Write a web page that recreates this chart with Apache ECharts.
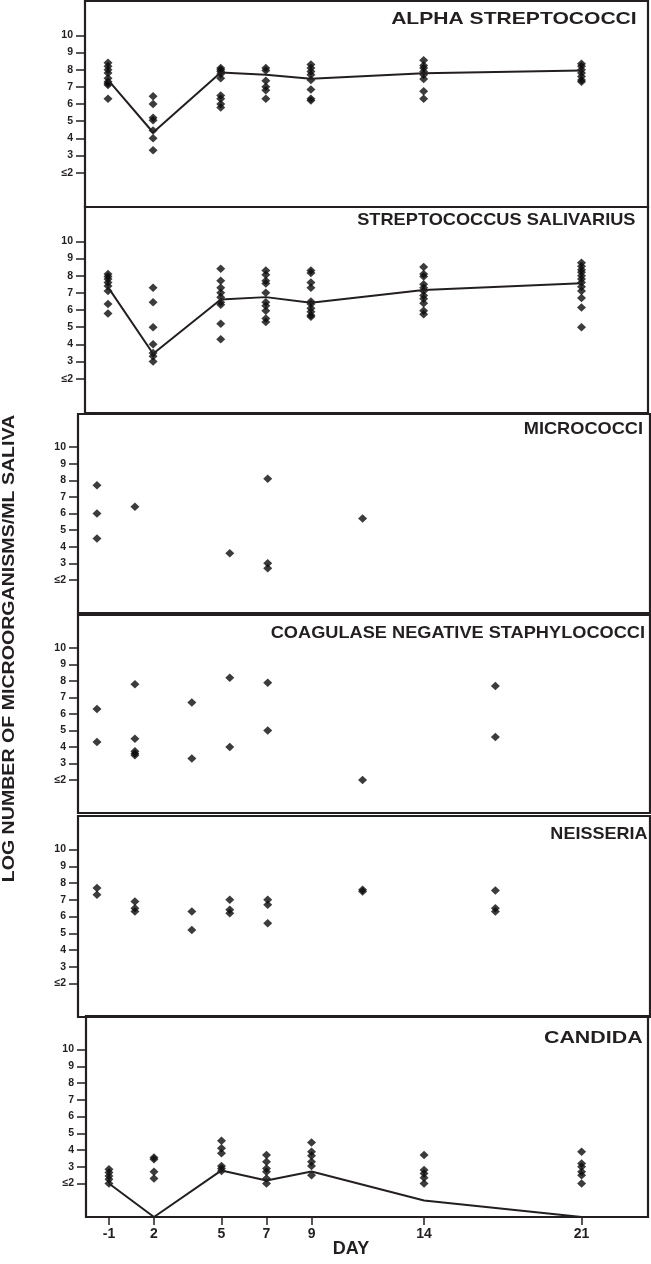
<!DOCTYPE html>
<html><head><meta charset="utf-8">
<script src="https://cdn.jsdelivr.net/npm/echarts@6/dist/echarts.min.js"></script>
<style>html,body{margin:0;padding:0;background:#fff}#c{width:651px;height:1264px}</style>
</head><body><div id="c"></div>
<script>
// ---------- DATA ----------
const days = [-1, 2, 5, 7, 9, 14, 21];
const yTicks = [2, 3, 4, 5, 6, 7, 8, 9, 10];
const yTickLabels = ['≤2', '3', '4', '5', '6', '7', '8', '9', '10'];
const panelTitles = ['ALPHA STREPTOCOCCI', 'STREPTOCOCCUS SALIVARIUS', 'MICROCOCCI',
  'COAGULASE NEGATIVE STAPHYLOCOCCI', 'NEISSERIA', 'CANDIDA'];
const yAxisTitle = 'LOG NUMBER OF MICROORGANISMS/ML SALIVA';
const xAxisTitle = 'DAY';

const alphaStrep = [
  [8.4, 8.2, 8.0, 7.8, 7.5, 7.3, 7.2, 7.1, 6.3],
  [6.45, 6.0, 5.2, 5.05, 4.45, 4.0, 3.3],
  [8.1, 8.0, 7.9, 7.75, 7.5, 6.5, 6.3, 6.0, 5.8],
  [8.1, 7.95, 7.35, 7.0, 6.8, 6.3],
  [8.3, 8.1, 7.9, 7.7, 7.4, 6.85, 6.3, 6.2],
  [8.55, 8.25, 8.1, 7.9, 7.7, 7.45, 6.75, 6.3],
  [8.35, 8.2, 8.0, 7.8, 7.6, 7.4, 7.3]
];
const alphaStrepMean = [7.41, 4.34, 7.83, 7.70, 7.47, 7.79, 7.95];

const salivarius = [
  [8.1, 7.95, 7.8, 7.6, 7.4, 7.1, 6.35, 5.8],
  [7.3, 6.45, 5.0, 4.0, 3.5, 3.3, 3.0],
  [8.4, 7.7, 7.3, 7.0, 6.75, 6.45, 6.3, 5.2, 4.3],
  [8.3, 8.05, 7.7, 7.55, 7.0, 6.45, 6.25, 5.95, 5.5, 5.3],
  [8.3, 8.15, 7.6, 7.3, 6.5, 6.35, 6.1, 5.9, 5.7, 5.6],
  [8.5, 8.1, 7.95, 7.5, 7.3, 7.1, 6.85, 6.65, 6.4, 5.95, 5.75],
  [8.75, 8.55, 8.35, 8.2, 8.0, 7.8, 7.6, 7.35, 7.1, 6.7, 6.15, 5.0]
];
const salivariusMean = [7.33, 3.45, 6.61, 6.75, 6.42, 7.17, 7.56];

const micrococci = [[7.7, 6.0, 4.5], [6.4], [], [3.6], [8.1, 3.0, 2.7], [5.7], []];
const coagNegStaph = [[6.3, 4.3], [7.8, 4.5, 3.75, 3.6, 3.5], [6.7, 3.3], [8.2, 4.0], [7.9, 5.0], [2.0], [7.7, 4.6]];
const neisseria = [[7.7, 7.3], [6.9, 6.5, 6.3], [6.3, 5.2], [7.0, 6.4, 6.2], [7.0, 6.7, 5.6], [7.6, 7.5], [7.55, 6.5, 6.3]];

const candida = [
  [2.85, 2.65, 2.45, 2.25, 2.0],
  [3.55, 3.45, 2.7, 2.3],
  [4.55, 4.1, 3.8, 3.05, 2.9, 2.75],
  [3.7, 3.3, 2.9, 2.7, 2.3, 2.0],
  [4.45, 3.9, 3.65, 3.3, 3.05, 2.5],
  [3.7, 2.8, 2.6, 2.35, 2.0],
  [3.9, 3.2, 3.0, 2.7, 2.5, 2.0]
];
const candidaMean = [2.0, 0.0, 2.78, 2.18, 2.72, 0.98, 0.0];

// ---------- LAYOUT / STYLE ----------
const INK = '#231f20';
const DOT = '#0d0b0c';
const FONT = '"Liberation Sans", Arial, sans-serif';
const panels = [
  { pts: alphaStrep, mean: alphaStrepMean, grid: { left: 85, top: 1, width: 563, height: 206 }, xr: [-1.02, 23.95], t: { x: 636.7, y: 19, s: 1.24 } },
  { pts: salivarius, mean: salivariusMean, grid: { left: 85, top: 207, width: 563, height: 206 }, xr: [-1.02, 23.95], t: { x: 635.5, y: 220.5, s: 1.07 } },
  { pts: micrococci, mean: null, grid: { left: 78, top: 414, width: 572, height: 199 }, xr: [-1, 29.15], t: { x: 643, y: 429.5, s: 1.07 } },
  { pts: coagNegStaph, mean: null, grid: { left: 78, top: 615, width: 572, height: 198 }, xr: [-1, 29.15], t: { x: 645, y: 633.3, s: 1.07 } },
  { pts: neisseria, mean: null, grid: { left: 78, top: 816, width: 572, height: 201 }, xr: [-1, 29.15], t: { x: 647.5, y: 834.5, s: 1.06 } },
  { pts: candida, mean: candidaMean, grid: { left: 86, top: 1016, width: 562, height: 201 }, xr: [-1.02, 23.95], t: { x: 642.7, y: 1038, s: 1.26 } }
];

// study timeline has no day 0: day -1 sits directly before day 1
const dayToAxis = d => (d < 0 ? d + 1 : d);
const xTickVals = days.map(dayToAxis);
const xLabel = v => { const i = xTickVals.indexOf(v); return i >= 0 ? String(days[i]) : ''; };
const yLabel = v => { const i = yTicks.indexOf(v); return i >= 0 ? yTickLabels[i] : ''; };

const grids = [], xAxes = [], yAxes = [], series = [], graphics = [];
panels.forEach((p, i) => {
  const last = i === panels.length - 1;
  grids.push(Object.assign({ show: true, borderColor: INK, borderWidth: 2.2, backgroundColor: 'transparent' }, p.grid));
  xAxes.push({
    gridIndex: i, type: 'value', min: p.xr[0], max: p.xr[1], position: 'bottom',
    axisLine: { show: false, onZero: false }, splitLine: { show: false },
    axisTick: { show: last, customValues: xTickVals, length: 8, lineStyle: { color: INK, width: 1.5 } },
    axisLabel: { show: last, customValues: xTickVals, formatter: xLabel, margin: 10,
      fontSize: 14, fontWeight: 'bold', fontFamily: FONT, color: INK }
  });
  yAxes.push({
    gridIndex: i, type: 'value', min: 0, max: 12, position: 'left',
    axisLine: { show: false, onZero: false }, splitLine: { show: false },
    axisTick: { show: true, customValues: yTicks, length: 9, lineStyle: { color: INK, width: 1.5 } },
    axisLabel: { show: true, customValues: yTicks, formatter: yLabel, margin: 12,
      fontSize: 10.5, fontWeight: 'bold', fontFamily: FONT, color: INK }
  });
  const data = [];
  p.pts.forEach((vals, j) => vals.forEach(v => data.push([dayToAxis(days[j]), v])));
  series.push({
    type: 'scatter', xAxisIndex: i, yAxisIndex: i, data: data,
    symbol: 'diamond', symbolSize: [9, 8.5], itemStyle: { color: DOT }, z: 3, silent: true
  });
  if (p.mean) {
    series.push({
      type: 'line', xAxisIndex: i, yAxisIndex: i,
      data: p.mean.map((v, j) => [dayToAxis(days[j]), v]),
      showSymbol: false, symbol: 'none', lineStyle: { color: INK, width: 2 }, z: 4, silent: true
    });
  }
  graphics.push({
    type: 'text', x: p.t.x, y: p.t.y, scaleX: p.t.s, silent: true,
    style: { text: panelTitles[i], font: 'bold 17px ' + FONT, fill: INK, align: 'right', verticalAlign: 'middle' }
  });
});

graphics.push({
  type: 'text', x: 9, y: 648.5, rotation: Math.PI / 2, scaleX: 1.187, silent: true,
  style: { text: yAxisTitle, font: 'bold 16.5px ' + FONT, fill: INK, align: 'center', verticalAlign: 'middle' }
});
graphics.push({
  type: 'text', x: 351, y: 1249, silent: true,
  style: { text: xAxisTitle, font: 'bold 18px ' + FONT, fill: INK, align: 'center', verticalAlign: 'middle' }
});

const chart = echarts.init(document.getElementById('c'), null, { renderer: 'canvas' });
chart.setOption({
  animation: false,
  backgroundColor: '#fff',
  grid: grids, xAxis: xAxes, yAxis: yAxes, series: series,
  graphic: graphics
});
</script>
</body></html>
